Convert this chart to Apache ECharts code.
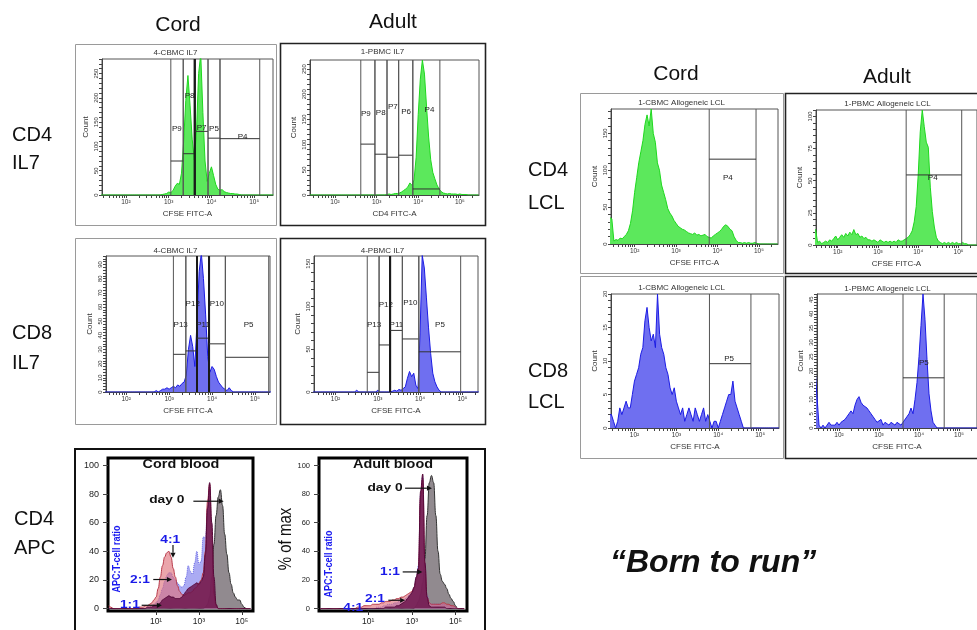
<!DOCTYPE html>
<html>
<head>
<meta charset="utf-8">
<title>Born to run</title>
<script src="https://cdn.jsdelivr.net/npm/echarts@6/dist/echarts.min.js"></script>
<style>
html,body{margin:0;padding:0;background:#fff;}
#main{width:977px;height:630px;}
</style>
</head>
<body>
<div id="main"></div>
<script>
// FACS bins, log10 of CFSE intensity
var facsBins = [
  1.40,1.45,1.50,1.55,1.60,1.65,1.70,1.75,1.80,1.85,
  1.90,1.95,2.00,2.05,2.10,2.15,2.20,2.25,2.30,2.35,
  2.40,2.45,2.50,2.55,2.60,2.65,2.70,2.75,2.80,2.85,
  2.90,2.95,3.00,3.05,3.10,3.15,3.20,3.25,3.30,3.35,
  3.40,3.45,3.50,3.55,3.60,3.65,3.70,3.75,3.80,3.85,
  3.90,3.95,4.00,4.05,4.10,4.15,4.20,4.25,4.30,4.35,
  4.40,4.45,4.50,4.55,4.60,4.65,4.70,4.75,4.80,4.85,
  4.90,4.95,5.00,5.05,5.10,5.15,5.20,5.25,5.30,5.35,
  5.40,5.45
];
var cd4Il7Cord = [
  0,0,0,0,0,0,0,0,0,0,
  0,0,0,0,0,0,0,0,0,0,
  0,0,0,0,0,0,0,0,0,1,
  2,3,6,5,9,18,24,22,45,110,
  195,246,185,115,72,130,250,290,170,70,
  28,45,58,40,22,12,10,11,7,5,
  4,3,3,2,2,1,0,0,0,0,
  0,0,0,0,0,0,0,0,0,0,
  0,0
];
var cd4Il7Adult = [
  0,0,0,0,0,0,0,0,0,0,
  0,0,0,0,0,0,0,0,0,0,
  0,0,0,0,0,0,0,0,0,0,
  0,0,0,0,0,0,0,1,2,1,
  2,3,3,4,6,9,12,16,24,19,
  30,75,160,230,268,240,175,115,70,45,
  32,20,12,7,4,3,2,3,2,2,
  2,1,2,1,1,1,0,0,0,0,
  0,0
];
var cd8Il7Cord = [
  0,0,0,0,0,0,0,0,0,0,
  0,0,0,0,0,0,0,0,0,0,
  0,0,0,0,0,0,1,0,1,2,
  2,3,2,3,4,3,5,4,6,7,
  12,30,40,32,18,50,85,98,80,55,
  25,14,18,16,11,7,5,3,2,1,
  3,1,0,0,0,0,0,0,0,0,
  0,0,0,0,0,0,0,0,0,0,
  0,0
];
var cd8Il7Adult = [
  0,0,0,0,0,0,0,0,0,0,
  0,0,0,0,0,0,0,0,0,0,
  0,0,2,0,0,0,0,0,0,0,
  0,0,2,0,0,0,0,0,0,1,
  2,1,3,2,4,6,16,24,18,22,
  8,4,70,160,145,110,75,45,22,12,
  6,2,0,0,0,0,0,0,0,0,
  0,0,0,0,0,0,0,0,0,0,
  0,0
];
var cd4LclCord = [
  36,34,4,6,5,8,7,10,13,18,
  28,45,70,90,110,125,140,162,175,160,
  183,150,138,110,100,80,70,60,48,42,
  38,32,28,24,22,20,19,17,15,14,
  13,15,12,13,11,12,13,10,9,8,
  11,13,15,17,20,24,26,24,20,18,
  10,5,2,2,1,2,1,2,1,1,
  2,1,0,0,0,0,0,0,0,0,
  0,0
];
var cd4LclAdult = [
  12,12,2,3,1,2,3,2,4,3,
  5,7,4,6,8,6,9,7,10,8,
  12,8,9,6,7,5,6,4,4,3,
  4,3,2,4,3,2,3,2,3,2,
  3,2,4,3,3,4,5,6,8,11,
  18,30,55,88,105,92,80,76,45,26,
  14,6,3,2,1,2,1,2,1,2,
  1,2,1,1,2,1,1,0,0,0,
  0,0
];
var cd8LclCord = [
  2,2,1,0,1,3,2,3,4,3,
  3,5,7,8,9,11,12,16,18,15,
  13,14,12,20,14,12,11,9,8,6,
  5,6,4,3,2,3,1,2,3,2,
  1,3,2,1,2,3,1,2,1,0,
  1,1,0,1,2,3,4,5,5,7,
  4,3,2,1,0,0,0,0,0,0,
  0,0,0,0,0,0,0,0,0,0,
  0,0
];
var cd8LclAdult = [
  21,21,1,0,1,0,1,2,1,1,
  1,2,1,2,2,3,4,5,6,5,
  8,10,11,9,8,8,7,6,5,4,
  3,2,2,3,1,2,2,1,2,2,
  1,2,2,1,2,2,4,5,7,5,
  10,16,25,36,47,38,24,12,6,2,
  1,0,0,0,0,0,0,0,0,0,
  0,0,0,0,0,0,0,0,0,0,
  0,0
];

// gates: name, from, to, level, label x, label y
var gatesCd4Il7Cord = [
  ['P9', 3.05, 3.34, 70, 3.19, 137],
  ['P8', 3.34, 3.61, 85, 3.49, 205],
  ['P7', 3.61, 3.92, 131, 3.77, 139],
  ['P5', 3.92, 4.20, 117, 4.06, 137],
  ['P4', 4.20, 5.13, 116, 4.73, 119]
];
var gatesCd4Il7Adult = [
  ['P9', 2.62, 2.96, 101, 2.74, 161],
  ['P8', 2.96, 3.25, 81, 3.10, 163],
  ['P7', 3.25, 3.53, 75, 3.39, 176],
  ['P6', 3.53, 3.87, 79, 3.71, 165],
  ['P4', 3.87, 4.52, 12, 4.27, 170]
];
var gatesCd8Il7Cord = [
  ['P13', 3.10, 3.39, 26.6, 3.27, 47.6],
  ['P12', 3.39, 3.65, 29, 3.55, 62],
  ['P11', 3.65, 3.93, 38, 3.79, 47.6],
  ['P10', 3.93, 4.31, 34, 4.11, 62],
  ['P5', 4.31, 5.32, 24.5, 4.85, 47.6]
];
var gatesCd8Il7Adult = [
  ['P13', 2.75, 3.03, 23, 2.91, 79],
  ['P12', 3.03, 3.29, 55, 3.19, 102],
  ['P11', 3.29, 3.58, 72, 3.44, 79],
  ['P10', 3.58, 3.97, 62, 3.77, 104],
  ['P5', 3.97, 4.96, 47, 4.47, 79]
];
var gatesCd4LclCord = [['P4', 3.80, 4.93, 115, 4.25, 90]];
var gatesCd4LclAdult = [['P4', 3.70, 5.08, 54.5, 4.36, 52]];
var gatesCd8LclCord = [['P5', 3.79, 4.78, 9.6, 4.26, 10.4]];
var gatesCd8LclAdult = [['P5', 3.60, 4.63, 17.6, 4.12, 23]];

// APC dilution histograms (% of max)
var apcBins = [
  -1.2,-1.1,-1.0,-0.9,-0.8,-0.7,-0.6,-0.5,-0.4,-0.3,
  -0.2,-0.1,0.0,0.1,0.2,0.3,0.4,0.5,0.6,0.7,
  0.8,0.9,1.0,1.1,1.2,1.3,1.4,1.5,1.6,1.7,
  1.8,1.9,2.0,2.1,2.2,2.3,2.4,2.5,2.6,2.7,
  2.8,2.9,3.0,3.1,3.2,3.3,3.4,3.5,3.6,3.7,
  3.8,3.9,4.0,4.1,4.2,4.3,4.4,4.5,4.6,4.7,
  4.8,4.9,5.0,5.1,5.2,5.3,5.4
];
var cordDay0 = [
  0,0,0,0,0,0,0,0,0,0,
  0,0,0,0,0,0,0,0,0,0,
  0,0,0,0,0,0,0,0,0,0,
  0,0,0,0,0,0,0,0,0,0,
  0,0,0,0,0,1,3,8,22,45,
  65,78,83,72,52,38,25,17,11,8,
  6,6,3,1,0,0,0
];
var cord21 = [
  0,0,0,0,0,0,0,0,0,0,
  0,0,0,0,0,0,0,0,1,1,
  2,3,4,6,10,14,19,23,25,25,
  22,20,18,16,15,16,22,30,26,24,
  32,40,31,33,50,50,70,86,45,8,
  1,0,0,0,0,0,0,0,0,0,
  0,0,0,0,0,0,0
];
var cord41 = [
  2,1,0,0,0,0,0,0,0,0,
  0,0,0,0,1,1,1,2,2,3,
  4,6,8,14,22,30,36,39,40,36,
  28,22,16,12,10,9,10,11,11,12,
  14,15,18,20,25,40,75,87,50,10,
  2,0,0,0,0,0,0,0,0,0,
  0,0,0,0,0,0,0
];
var cord11 = [
  0,0,0,0,0,0,0,0,0,0,
  0,0,0,0,0,0,0,0,1,1,
  1,2,2,3,4,6,7,8,9,8,
  8,7,7,7,8,10,12,14,15,16,
  17,18,17,19,22,38,70,88,60,22,
  3,0,0,0,0,0,0,0,0,0,
  0,0,0,0,0,0,0
];
var adultDay0 = [
  0,0,0,0,0,0,0,0,0,0,
  0,0,0,0,0,0,0,0,0,0,
  0,0,0,0,0,0,0,0,0,0,
  0,0,0,0,0,0,0,0,0,0,
  0,0,0,0,2,5,10,18,35,65,
  88,93,88,65,40,24,19,17,14,10,
  7,5,2,0,0,0,0
];
var adult21 = [
  0,0,0,0,0,0,0,0,0,0,
  0,0,0,0,0,0,0,0,0,0,
  0,0,0,0,0,0,1,1,1,2,
  2,3,3,3,4,4,5,5,6,7,
  8,10,11,13,22,30,80,92,32,9,
  4,3,3,3,3,3,3,3,2,2,
  2,1,1,0,0,0,0
];
var adult41 = [
  0,0,0,0,0,0,0,0,0,0,
  0,0,0,0,0,0,0,1,1,1,
  2,2,2,2,3,3,3,3,4,4,
  5,5,5,6,6,7,7,8,8,9,
  10,11,12,14,20,28,78,90,30,8,
  4,3,3,3,3,3,4,4,3,3,
  2,2,1,0,0,0,0
];
var adult11 = [
  0,0,0,0,0,0,0,0,0,0,
  0,0,0,0,0,0,0,0,0,0,
  0,0,0,0,0,0,0,0,0,0,
  1,1,1,1,1,2,2,3,4,5,
  7,9,11,15,22,28,82,94,32,8,
  2,1,1,1,1,1,1,1,0,0,
  0,0,0,0,0,0,0
];
// arrows: text, text x, text y, from x, from y, to x, to y
var notesCord = [
  ['day 0', 1.50, 76, 2.74, 75, 4.15, 75],
  ['4:1', 1.66, 48, 1.79, 44.4, 1.79, 35.5],
  ['2:1', 0.25, 20.3, 0.87, 20.3, 1.74, 20.3],
  ['1:1', -0.22, 2.8, 0.33, 2.3, 1.27, 2.3]
];
var notesAdult = [
  ['day 0', 1.77, 84.5, 2.69, 84.1, 3.92, 84.1],
  ['1:1', 2.0, 25.6, 2.58, 25.6, 3.48, 25.6],
  ['2:1', 1.31, 6.5, 1.92, 5.8, 2.69, 5.8],
  ['4:1', 0.31, 0.5, 0.31, 0.5, 0.31, 0.5]
];

var FONT = '"Liberation Sans", Arial, "DejaVu Sans", sans-serif';
var sup = {1:'\u00b9', 2:'\u00b2', 3:'\u00b3', 4:'\u2074', 5:'\u2075'};
function decadeLabel(v){ return '10' + sup[Math.round(v)]; }

function logTicks(lo, hi){
  var out = [];
  for (var n = 1; n <= 5; n++){
    for (var k = 1; k <= 9; k++){
      var e = n + Math.log10(k);
      if (e >= lo && e <= hi) out.push(e);
    }
  }
  return out;
}
function countTicks(ticks, yMax){
  var step = (ticks[1] - ticks[0]) / 5, out = [];
  for (var v = 0; v <= yMax + 1e-9; v += step) out.push(Math.round(v * 100) / 100);
  return out;
}

var green = {fill:'#5ce85c', line:'#1fd81f'};
var blue = {fill:'#6f6ff0', line:'#1c1ce4'};

var facsPanels = [
  {box:[102,59,171,136], x:[1.44,5.44], yMax:280, yTicks:[0,50,100,150,200,250], counts:cd4Il7Cord, gates:gatesCd4Il7Cord, thick:[3.61], col:green, xName:'CFSE FITC-A', title:'4-CBMC IL7', titleY:53, frame:[75,44,201,181], dark:false},
  {box:[310,60,169,135], x:[1.40,5.46], yMax:268, yTicks:[0,50,100,150,200,250], counts:cd4Il7Adult, gates:gatesCd4Il7Adult, thick:[], col:green, xName:'CD4 FITC-A', title:'1-PBMC IL7', titleY:52, frame:[280,43,205,182], dark:true},
  {box:[106,256,164,136], x:[1.53,5.35], yMax:96, yTicks:[0,10,20,30,40,50,60,70,80,90], counts:cd8Il7Cord, gates:gatesCd8Il7Cord, thick:[3.65,3.93], col:blue, xName:'CFSE FITC-A', title:'4-CBMC IL7', titleY:251, frame:[75,238,201,186], dark:false},
  {box:[314,256,164,136], x:[1.49,5.37], yMax:159, yTicks:[0,50,100,150], counts:cd8Il7Adult, gates:gatesCd8Il7Adult, thick:[3.29], col:blue, xName:'CFSE FITC-A', title:'4-PBMC IL7', titleY:251, frame:[280,238,205,186], dark:true},
  {box:[611,109,167,135], x:[1.43,5.46], yMax:183, yTicks:[0,50,100,150], counts:cd4LclCord, gates:gatesCd4LclCord, thick:[], col:green, xName:'CFSE FITC-A', title:'1-CBMC Allogeneic LCL', titleY:103, frame:[580,93,203,180], dark:false},
  {box:[816,110,167,135], x:[1.46,5.46], yMax:105, yTicks:[0,25,50,75,100], counts:cd4LclAdult, gates:gatesCd4LclAdult, thick:[], col:green, xName:'CFSE FITC-A', title:'1-PBMC Allogeneic LCL', titleY:104, frame:[785,93,205,180], dark:true},
  {box:[611,294,168,134], x:[1.44,5.45], yMax:20, yTicks:[0,5,10,15,20], counts:cd8LclCord, gates:gatesCd8LclCord, thick:[], col:blue, xName:'CFSE FITC-A', title:'1-CBMC Allogeneic LCL', titleY:288, frame:[580,276,203,182], dark:false},
  {box:[817,294,168,134], x:[1.45,5.45], yMax:47, yTicks:[0,5,10,15,20,25,30,35,40,45], counts:cd8LclAdult, gates:gatesCd8LclAdult, thick:[], col:blue, xName:'CFSE FITC-A', title:'1-PBMC Allogeneic LCL', titleY:289, frame:[785,276,205,182], dark:true}
];

var apcColors = [
  {fill:'rgba(130,122,128,0.88)', line:'#333', type:'solid'},
  {fill:'rgba(115,115,235,0.6)', line:'rgba(80,80,225,0.8)', type:'dotted'},
  {fill:'rgba(222,110,120,0.62)', line:'#b8394a', type:'solid'},
  {fill:'rgba(105,18,75,0.82)', line:'#55093a', type:'solid'}
];
var apcPanels = [
  {box:[108,458,145,153], x:[-1.24,5.52], series:[cordDay0, cord21, cord41, cord11], notes:notesCord, title:'Cord blood', titleX:181, labelSize:9, ratioX:117, ratioY:559},
  {box:[319,458,148,153], x:[-1.26,5.53], series:[adultDay0, adult21, adult41, adult11], notes:notesAdult, title:'Adult blood', titleX:393, labelSize:7.5, ratioX:329, ratioY:564}
];

var grids = [], xAxes = [], yAxes = [], series = [], graphics = [];

function gateSeries(p, idx){
  return {
    type:'custom', xAxisIndex:idx, yAxisIndex:idx, silent:true, z:4,
    data: p.gates.map(function(g){ return [g[1], g[3]]; }),
    renderItem: function(params, api){
      var g = p.gates[params.dataIndex];
      var cs = params.coordSys;
      var a = api.coord([g[1], g[3]]), b = api.coord([g[2], g[3]]), t = api.coord([g[4], g[5]]);
      function vline(x, v){
        var w = p.thick.indexOf(v) >= 0 ? 2 : 1;
        return {type:'line', shape:{x1:x, y1:cs.y, x2:x, y2:cs.y + cs.height}, style:{stroke: w > 1 ? '#1a1a1a' : '#555', lineWidth:w}};
      }
      return {type:'group', children:[
        vline(a[0], g[1]), vline(b[0], g[2]),
        {type:'line', shape:{x1:a[0], y1:a[1], x2:b[0], y2:b[1]}, style:{stroke:'#333', lineWidth:1}},
        {type:'text', x:t[0], y:t[1], style:{text:g[0], fill:'#222', font:'8px ' + FONT, align:'center', verticalAlign:'middle', textAlign:'center', textVerticalAlign:'middle'}}
      ]};
    }
  };
}

function noteSeries(p, idx){
  return {
    type:'custom', xAxisIndex:idx, yAxisIndex:idx, silent:true, z:6,
    data: p.notes.map(function(n){ return [n[1], n[2]]; }),
    renderItem: function(params, api){
      var n = p.notes[params.dataIndex];
      var t = api.coord([n[1], n[2]]);
      var isDay = n[0] === 'day 0';
      var kids = [{type:'text', x:t[0], y:t[1], scaleX:1.25,
        style:{text:n[0], fill: isDay ? '#111' : '#1a1ae8', font:'bold 11px ' + FONT, align:'center', verticalAlign:'middle', textAlign:'center', textVerticalAlign:'middle'}}];
      if (n[3] !== n[5] || n[4] !== n[6]){
        var a = api.coord([n[3], n[4]]), b = api.coord([n[5], n[6]]);
        var ang = Math.atan2(b[1] - a[1], b[0] - a[0]);
        var hl = 5, hw = 2.6;
        var bx = b[0] - hl * Math.cos(ang), by = b[1] - hl * Math.sin(ang);
        kids.push({type:'line', shape:{x1:a[0], y1:a[1], x2:bx, y2:by}, style:{stroke:'#111', lineWidth:1.2}});
        kids.push({type:'polygon', shape:{points:[[b[0], b[1]], [bx - hw * Math.sin(ang), by + hw * Math.cos(ang)], [bx + hw * Math.sin(ang), by - hw * Math.cos(ang)]]}, style:{fill:'#111'}});
      }
      return {type:'group', children:kids};
    }
  };
}

facsPanels.forEach(function(p, i){
  grids.push({left:p.box[0], top:p.box[1], width:p.box[2], height:p.box[3], show:true, borderColor:'#555', borderWidth:1, backgroundColor:'#fff'});
  xAxes.push({
    gridIndex:i, type:'value', min:p.x[0], max:p.x[1], splitLine:{show:false},
    axisLine:{show:true, onZero:false, lineStyle:{color:'#444', width:1}},
    axisTick:{show:true, length:3, customValues:logTicks(p.x[0], p.x[1]), lineStyle:{color:'#444'}},
    axisLabel:{customValues:[2,3,4,5], formatter:decadeLabel, fontSize:6.5, color:'#333', margin:4, fontFamily:FONT},
    name:p.xName, nameLocation:'middle', nameGap:15, nameTextStyle:{fontSize:8, color:'#333', fontFamily:FONT}
  });
  yAxes.push({
    gridIndex:i, type:'value', min:0, max:p.yMax, splitLine:{show:false},
    axisLine:{show:true, onZero:false, lineStyle:{color:'#444', width:1}},
    axisTick:{show:true, length:3, customValues:countTicks(p.yTicks, p.yMax), lineStyle:{color:'#444'}},
    axisLabel:{customValues:p.yTicks, rotate:90, fontSize:6, color:'#333', margin:3, fontFamily:FONT},
    name:'Count', nameLocation:'middle', nameGap:12, nameTextStyle:{fontSize:8, color:'#333', fontFamily:FONT}
  });
  series.push({
    type:'line', xAxisIndex:i, yAxisIndex:i, showSymbol:false, symbol:'none', z:2,
    data: facsBins.map(function(e, k){ return [e, p.counts[k]]; }),
    lineStyle:{color:p.col.line, width:1},
    areaStyle:{color:p.col.fill, opacity:1}
  });
  series.push(gateSeries(p, i));
  graphics.push({type:'rect', shape:{x:p.frame[0] + 0.5, y:p.frame[1] + 0.5, width:p.frame[2], height:p.frame[3]},
    style:{fill:'none', stroke: p.dark ? '#222' : '#9a9a9a', lineWidth: p.dark ? 1.6 : 1}, z:1});
  graphics.push({type:'text', x:p.frame[0] + p.frame[2] / 2, y:p.titleY,
    style:{text:p.title, font:'8px ' + FONT, fill:'#333', align:'center', verticalAlign:'middle', textAlign:'center', textVerticalAlign:'middle'}, z:3});
});

apcPanels.forEach(function(p, j){
  var i = facsPanels.length + j;
  grids.push({left:p.box[0], top:p.box[1], width:p.box[2], height:p.box[3], show:true, borderColor:'#000', borderWidth:3, backgroundColor:'#fff'});
  xAxes.push({
    gridIndex:i, type:'value', min:p.x[0], max:p.x[1], splitLine:{show:false},
    axisLine:{show:false, onZero:false},
    axisTick:{show:true, length:4, customValues:[1,3,5], lineStyle:{color:'#333'}},
    axisLabel:{customValues:[1,3,5], formatter:decadeLabel, fontSize:8.5, color:'#222', margin:6, fontFamily:FONT}
  });
  yAxes.push({
    gridIndex:i, type:'value', min:-1.7, max:105.2, splitLine:{show:false},
    axisLine:{show:false, onZero:false},
    axisTick:{show:true, length:5, customValues:[0,20,40,60,80,100], lineStyle:{color:'#444'}},
    axisLabel:{customValues:[0,20,40,60,80,100], fontSize:p.labelSize, color:'#222', margin:9, fontFamily:FONT}
  });
  p.series.forEach(function(vals, s){
    var c = apcColors[s];
    series.push({
      type:'line', xAxisIndex:i, yAxisIndex:i, showSymbol:false, symbol:'none', smooth:0.45, smoothMonotone:'x', z:2 + s * 0.1,
      data: apcBins.map(function(e, k){ return [e, vals[k]]; }),
      lineStyle:{color:c.line, width:1, type:c.type},
      areaStyle:{color:c.fill, opacity:1}
    });
  });
  series.push(noteSeries(p, i));
  graphics.push({type:'text', x:p.titleX, y:465, scaleX:1.2,
    style:{text:p.title, font:'bold 12px ' + FONT, fill:'#111', align:'center', verticalAlign:'middle', textAlign:'center', textVerticalAlign:'middle'}, z:10});
  graphics.push({type:'text', x:p.ratioX, y:p.ratioY, rotation:Math.PI / 2, scaleY:1.2,
    style:{text:'APC:T-cell ratio', font:'bold 9px ' + FONT, fill:'#1a1af0', align:'center', verticalAlign:'middle', textAlign:'center', textVerticalAlign:'middle'}, z:10});
});

// APC outer frame and y title
graphics.push({type:'rect', shape:{x:75, y:449, width:410, height:190}, style:{fill:'none', stroke:'#111', lineWidth:2}, z:1});
graphics.push({type:'text', x:286, y:539, rotation:Math.PI / 2, scaleY:1.2,
  style:{text:'% of max', font:'15px ' + FONT, fill:'#111', align:'center', verticalAlign:'middle', textAlign:'center', textVerticalAlign:'middle'}, z:10});

var headings = [['Cord', 178, 25], ['Adult', 393, 22], ['Cord', 676, 74], ['Adult', 887, 77]];
headings.forEach(function(h){
  graphics.push({type:'text', x:h[1], y:h[2],
    style:{text:h[0], font:'21px ' + FONT, fill:'#111', align:'center', verticalAlign:'middle', textAlign:'center', textVerticalAlign:'middle'}});
});
var rowLabels = [
  ['CD4', 12, 135], ['IL7', 12, 163], ['CD8', 12, 333], ['IL7', 12, 363],
  ['CD4', 14, 519], ['APC', 14, 548], ['CD4', 528, 170], ['LCL', 528, 203],
  ['CD8', 528, 371], ['LCL', 528, 402]
];
rowLabels.forEach(function(r){
  graphics.push({type:'text', x:r[1], y:r[2],
    style:{text:r[0], font:'20px ' + FONT, fill:'#111', align:'left', verticalAlign:'middle', textAlign:'left', textVerticalAlign:'middle'}});
});
graphics.push({type:'text', x:610, y:563,
  style:{text:'\u201cBorn to run\u201d', font:'italic bold 32px ' + FONT, fill:'#111', align:'left', verticalAlign:'middle', textAlign:'left', textVerticalAlign:'middle'}});

var chart = echarts.init(document.getElementById('main'), null, {renderer:'canvas'});
chart.setOption({
  animation:false,
  backgroundColor:'#fff',
  grid:grids,
  xAxis:xAxes,
  yAxis:yAxes,
  series:series,
  graphic:{elements:graphics}
});
</script>
</body>
</html>
